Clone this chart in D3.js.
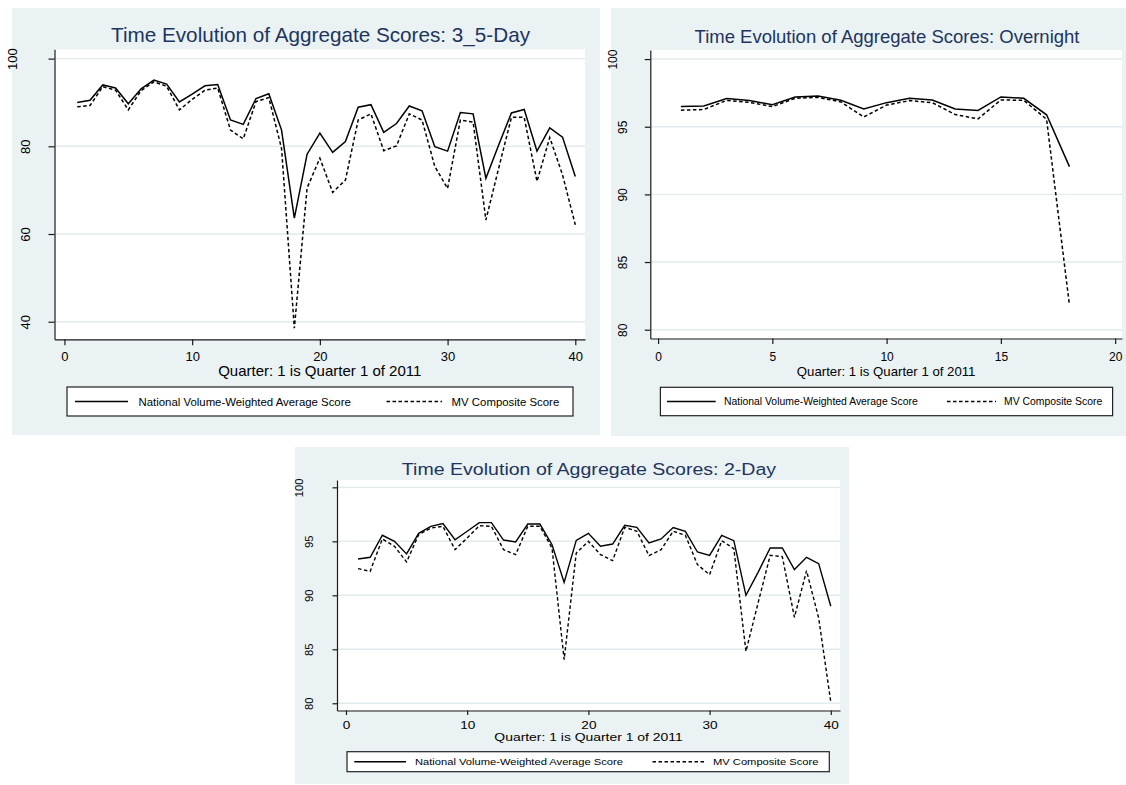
<!DOCTYPE html>
<html><head><meta charset="utf-8">
<script src="https://cdn.jsdelivr.net/npm/d3@7"></script>
<style>
html,body{margin:0;padding:0;background:#fff;}
svg{display:block;}
text{font-family:"Liberation Sans",Arial,Helvetica,sans-serif;}
</style>
</head><body>
<svg id="c" width="1126" height="785"></svg>
<script>
// ---------------- DATA ----------------
const quarters40 = [1,2,3,4,5,6,7,8,9,10,11,12,13,14,15,16,17,18,19,20,21,22,23,24,25,26,27,28,29,30,31,32,33,34,35,36,37,38,39,40];
const quarters18 = [1,2,3,4,5,6,7,8,9,10,11,12,13,14,15,16,17,18];

const seriesNames = ["National Volume-Weighted Average Score", "MV Composite Score"];
const titles = [
  "Time Evolution of Aggregate Scores: 3_5-Day",
  "Time Evolution of Aggregate Scores: Overnight",
  "Time Evolution of Aggregate Scores: 2-Day"
];
const xAxisTitle = "Quarter: 1 is Quarter 1 of 2011";

// 3_5-Day
const nat35 = [90.0,90.5,94.0,93.3,89.7,93.1,95.1,94.2,90.1,91.9,93.8,94.1,86.0,85.0,90.9,92.0,83.7,63.6,78.2,83.0,78.6,81.1,88.9,89.5,83.2,85.2,89.2,88.1,79.9,78.9,87.7,87.4,72.7,80.3,87.6,88.4,78.9,84.2,82.1,73.1];
const mv35  = [89.0,89.3,93.6,92.8,88.3,92.7,94.7,93.7,88.3,90.7,92.8,93.3,83.7,81.7,90.2,91.1,79.5,38.5,70.5,77.3,69.5,72.3,86.0,87.4,79.0,80.1,87.4,86.0,75.4,70.4,86.0,85.5,63.2,75.0,86.6,86.6,72.0,82.0,73.5,62.1];
const xTicks35 = [0,10,20,30,40];
const yTicks35 = [40,60,80,100];

// Overnight
const natON = [96.49,96.54,97.08,96.93,96.63,97.2,97.27,96.95,96.31,96.78,97.1,96.98,96.31,96.2,97.2,97.1,95.88,92.05];
const mvON  = [96.22,96.27,96.95,96.8,96.49,97.1,97.17,96.83,95.72,96.6,96.93,96.78,95.9,95.58,96.98,96.95,95.55,81.82];
const xTicksON = [0,5,10,15,20];
const yTicksON = [80,85,90,95,100];

// 2-Day
const nat2 = [93.36,93.52,95.56,95.0,93.83,95.74,96.39,96.64,95.15,95.93,96.73,96.73,95.12,94.94,96.6,96.6,94.69,91.2,95.09,95.74,94.54,94.75,96.48,96.3,94.85,95.22,96.27,95.93,94.01,93.7,95.56,95.06,90.0,92.13,94.38,94.38,92.38,93.52,92.93,88.98];
const mv2  = [92.47,92.22,95.22,94.54,93.09,95.62,96.23,96.39,94.23,95.31,96.45,96.39,94.23,93.77,96.39,96.39,94.38,84.04,93.92,95.0,93.77,93.21,96.3,95.93,93.67,94.23,95.93,95.56,92.84,91.91,95.06,94.32,84.81,89.29,93.7,93.58,87.96,92.28,87.9,80.12];
const xTicks2 = [0,10,20,30,40];
const yTicks2 = [80,85,90,95,100];

// ---------------- STYLE / LAYOUT ----------------
const BG = "#eaf2f3", GRID = "#e1eaed", AX = "#1a1a1a", TITLE = "#22345e";

const panels = [
  { title: titles[0], q: quarters40, nat: nat35, mv: mv35, xTicks: xTicks35, yTicks: yTicks35,
    bg: [12, 8, 588, 427], plot: [54.5, 49.3, 585, 339.3], xDom: [-0.78, 40.76], yDom: [35.99, 102.12],
    titleX: 320.5, titleY: 41.7, titleFs: 20.7, tickFs: 13, tickLabY: 361, xtitleFs: 15, xtitleY: 376,
    ylabX: 30, topShift: 13, tickLen: 6, sx: 1, lw: 1.5,
    leg: { box: [67, 387, 506, 29], s1: [75, 128], t1: 138.5, s2: [386.5, 442], t2: 451.6, fs: 11.4 } },
  { title: titles[1], q: quarters18, nat: natON, mv: mvON, xTicks: xTicksON, yTicks: yTicksON,
    bg: [611, 8, 515, 428], plot: [650.3, 50, 1122, 338.5], xDom: [-0.34, 20.3], yDom: [79.35, 100.67],
    titleX: 887, titleY: 42.5, titleFs: 18.5, tickFs: 12, tickLabY: 361, xtitleFs: 13.2, xtitleY: 376,
    ylabX: 627, topShift: 10, tickLen: 5.5, sx: 1, lw: 1.5,
    leg: { box: [660.4, 387.3, 452.2, 28.4], s1: [667, 715.7], t1: 724, s2: [947, 996], t2: 1004, fs: 10.4 } },
  { title: titles[2], q: quarters40, nat: nat2, mv: mv2, xTicks: xTicks2, yTicks: yTicks2,
    bg: [295, 447, 554, 337], plot: [337, 480, 840, 710.5], xDom: [-0.74, 40.76], yDom: [79.33, 100.68],
    titleX: 589, titleY: 475, titleFs: 16.3, tickFs: 11.3, tickLabY: 728.8, xtitleFs: 11.6, xtitleY: 740.8,
    ylabX: 312.7, topShift: 10, tickLen: 4.5, sx: 1.2, lw: 1.4,
    leg: { box: [347, 751.7, 482.3, 20], s1: [354.3, 406], t1: 415, s2: [652.5, 704.3], t2: 713, fs: 9.3 } }
];

const svg = d3.select("#c");

function addText(g, str, x, y, fs, anchor, sx, fill) {
  return g.append("text")
    .attr("transform", `translate(${x},${y}) scale(${sx},1)`)
    .attr("text-anchor", anchor)
    .attr("font-size", fs)
    .attr("fill", fill || "#000")
    .text(str);
}

function drawPanel(p) {
  const g = svg.append("g");
  g.append("rect").attr("x", p.bg[0]).attr("y", p.bg[1]).attr("width", p.bg[2]).attr("height", p.bg[3]).attr("fill", BG);
  const [l, t, r, b] = p.plot;
  g.append("rect").attr("x", l).attr("y", t).attr("width", r - l).attr("height", b - t).attr("fill", "#fff");

  const x = d3.scaleLinear().domain(p.xDom).range([l, r]);
  const y = d3.scaleLinear().domain(p.yDom).range([b, t]);

  // gridlines
  g.append("g").selectAll("line").data(p.yTicks).join("line")
    .attr("x1", l).attr("x2", r).attr("y1", d => y(d)).attr("y2", d => y(d))
    .attr("stroke", GRID).attr("stroke-width", 1.4);

  // series
  const line = d3.line().x((d, i) => x(p.q[i])).y(d => y(d));
  g.append("path").datum(p.nat).attr("d", line).attr("fill", "none")
    .attr("stroke", "#000").attr("stroke-width", p.lw).attr("stroke-linejoin", "miter");
  g.append("path").datum(p.mv).attr("d", line).attr("fill", "none")
    .attr("stroke", "#000").attr("stroke-width", p.lw).attr("stroke-dasharray", "3.5,2.5");

  // x axis
  const xa = g.append("g").attr("transform", `translate(0,${b})`)
    .call(d3.axisBottom(x).tickValues(p.xTicks).tickSize(p.tickLen).tickSizeOuter(0).tickFormat(d3.format("d")));
  xa.attr("font-family", null).attr("font-size", p.tickFs);
  xa.select(".domain").attr("stroke", AX).attr("stroke-width", 1.2);
  xa.selectAll(".tick line").attr("stroke", AX).attr("stroke-width", 1.2);
  xa.selectAll(".tick text").attr("y", 0).attr("dy", null).attr("fill", "#000")
    .attr("transform", `translate(0,${p.tickLabY - b}) scale(${p.sx},1)`);

  // y axis
  const topTick = d3.max(p.yTicks);
  const ya = g.append("g").attr("transform", `translate(${l},0)`)
    .call(d3.axisLeft(y).tickValues(p.yTicks).tickSize(p.tickLen).tickSizeOuter(0).tickFormat(d3.format("d")));
  ya.attr("font-family", null).attr("font-size", p.tickFs);
  ya.select(".domain").attr("stroke", AX).attr("stroke-width", 1.2);
  ya.selectAll(".tick line").attr("stroke", AX).attr("stroke-width", 1.2);
  ya.selectAll(".tick text").attr("x", 0).attr("dy", null).attr("fill", "#000")
    .attr("text-anchor", "middle")
    .attr("transform", d => `translate(${p.ylabX - l - (d === topTick ? p.topShift : 0)},0) rotate(-90)`);

  // titles
  addText(g, p.title, p.titleX, p.titleY, p.titleFs, "middle", p.sx, TITLE);
  addText(g, xAxisTitle, (l + r) / 2, p.xtitleY, p.xtitleFs, "middle", p.sx, "#000");

  // legend
  const L = p.leg;
  const cy = L.box[1] + L.box[3] / 2;
  g.append("rect").attr("x", L.box[0]).attr("y", L.box[1]).attr("width", L.box[2]).attr("height", L.box[3])
    .attr("fill", "#fff").attr("stroke", "#222").attr("stroke-width", 1.2);
  g.append("line").attr("x1", L.s1[0]).attr("x2", L.s1[1]).attr("y1", cy).attr("y2", cy)
    .attr("stroke", "#000").attr("stroke-width", p.lw);
  g.append("line").attr("x1", L.s2[0]).attr("x2", L.s2[1]).attr("y1", cy).attr("y2", cy)
    .attr("stroke", "#000").attr("stroke-width", p.lw).attr("stroke-dasharray", "3.5,2.5");
  addText(g, seriesNames[0], L.t1, cy + L.fs * 0.36, L.fs, "start", p.sx, "#000");
  addText(g, seriesNames[1], L.t2, cy + L.fs * 0.36, L.fs, "start", p.sx, "#000");
}

panels.forEach(drawPanel);
</script>
</body></html>
